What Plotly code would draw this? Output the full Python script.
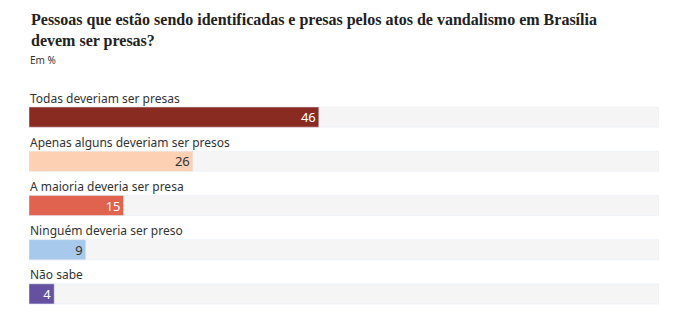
import plotly.graph_objects as go

categories = ["Todas deveriam ser presas", "Apenas alguns deveriam ser presos",
              "A maioria deveria ser presa", "Ninguém deveria ser preso", "Não sabe"]
values = [46, 26, 15, 9, 4]
colors = ["#8a2b22", "#fdcfb3", "#e0634f", "#a7c9eb", "#6651a1"]
text_colors = ["#ffffff", "#333333", "#ffffff", "#333333", "#ffffff"]
total = [100] * len(categories)

W, H = 695, 327
L, R, T, B = 29, 36, 95, 11
ph = H - T - B

fig = go.Figure()
fig.add_trace(go.Bar(y=categories, x=total, orientation="h", marker_color="#f5f5f5",
                     width=0.455, hoverinfo="skip", showlegend=False))
fig.add_trace(go.Bar(y=categories, x=values, orientation="h", marker_color=colors,
                     width=0.455, text=[str(v) for v in values], textposition="inside",
                     insidetextanchor="end", constraintext="none", textangle=0,
                     textfont=dict(color=text_colors, size=13, family="Noto Sans"),
                     showlegend=False))

for c in categories:
    fig.add_annotation(x=0, y=c, xref="x", yref="y", text=c, showarrow=False,
                       xanchor="left", yanchor="middle", yshift=19, xshift=-1,
                       font=dict(size=12, color="#333333", family="Noto Sans"))

def py(pix):
    return 1 + (T - pix) / ph

fig.add_annotation(xref="paper", yref="paper", x=0, y=py(31), xanchor="left", yanchor="middle",
                   text="<b>Pessoas que estão sendo identificadas e presas pelos atos de vandalismo em Brasília<br>devem ser presas?</b>",
                   align="left", showarrow=False,
                   font=dict(size=16, color="#222222", family="Liberation Serif"))
fig.add_annotation(xref="paper", yref="paper", x=0, y=py(60), xanchor="left", yanchor="middle",
                   text="Em %", showarrow=False, xshift=-1,
                   font=dict(size=10, color="#333333", family="Noto Sans"))

fig.update_layout(width=W, height=H, margin=dict(l=L, r=R, t=T, b=B),
                  barmode="overlay", plot_bgcolor="white", paper_bgcolor="white",
                  xaxis=dict(range=[0, 100], visible=False, fixedrange=True),
                  yaxis=dict(range=[len(categories) - 0.5, -0.5], visible=False, fixedrange=True,
                             categoryorder="array", categoryarray=categories))
fig.write_html("out.html")
